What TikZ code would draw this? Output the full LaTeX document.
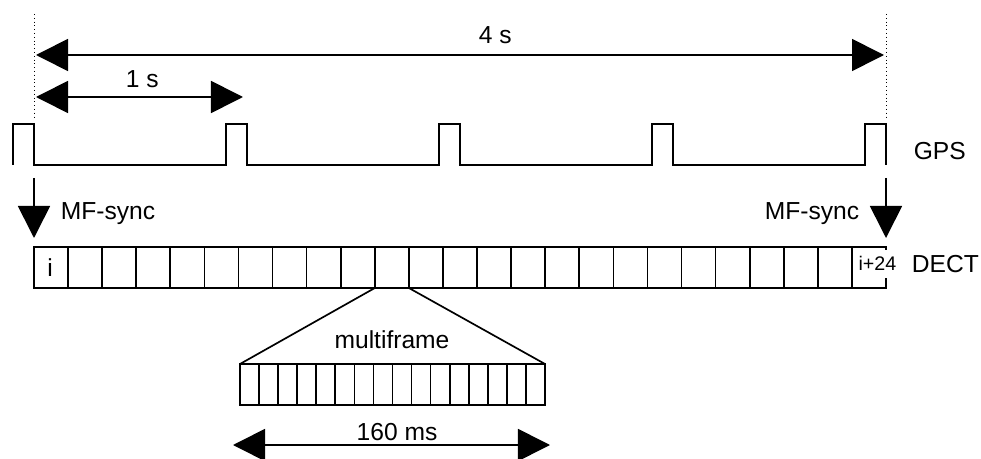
\documentclass[tikz,border=0pt]{standalone}
\usepackage{fontspec}
\setmainfont{Liberation Sans}
\usetikzlibrary{arrows.meta}

\begin{document}
\begin{tikzpicture}[x=0.025cm,y=-0.025cm,line width=1.2pt,
        font=\fontsize{17.5}{21}\selectfont,
        >={Triangle[length=0.8cm,width=0.8cm]},
        lbl/.style={inner sep=0pt}]
            \useasboundingbox (0,0) rectangle (981,459);

            \draw[dotted,line width=0.7pt] (34,14) -- (34,118);
            \draw[dotted,line width=0.7pt] (886,14) -- (886,118);

            \coordinate (fourL) at (36,55);
            \coordinate (fourR) at (884,55);
            \coordinate (oneR) at (243,97);
            \draw[<->] (fourL) -- (fourR);
            \draw[<->] (fourL |- oneR) -- (oneR);
            \node[lbl,anchor=base west] (fours) at (478,44) {4 s};
            \node[lbl,anchor=base west] (ones) at (125,88) {1 s};

            \draw (13,165) -- (13,124) -- (34,124) -- (34,165)
            foreach \p in {226,439,652,865} {-- (\p,165) -- (\p,124) -- ({\p+21},124) -- ({\p+21},165)};
            \node[lbl,anchor=base west] (gps) at (913,160) {GPS};

            \coordinate (syncLa) at (34,178);
            \coordinate (syncLb) at (34,238);
            \coordinate (syncRa) at (886,178);
            \coordinate (syncRb) at (886,238);
            \draw[->] (syncLa) -- (syncLb);
            \draw[->] (syncRa) -- (syncRb);
            \node[lbl,anchor=base west] (syncL) at (60,220) {MF-sync};
            \node[lbl,anchor=base east] (syncR) at (860,220) {MF-sync};

            \draw (34,247) rectangle (886,288);
            \foreach \k in {1,...,24}
            \draw ({34+34.08*\k},247) -- ++(0,41);
            \node[lbl,anchor=base] (first) at (50,277) {i};
            \node[fill=white,inner xsep=1pt,inner ysep=5pt,anchor=base,
                font=\fontsize{14}{17}\selectfont] (last) at (877.5,271) {i+24};
            \node[lbl,anchor=base west] (dect) at (911,273) {DECT};

            \coordinate (cellL) at (374.8,288);
            \coordinate (cellR) at (408.9,288);
            \coordinate (mfL) at (240,364);
            \coordinate (mfR) at (545,364);
            \draw (cellL) -- (mfL);
            \draw (cellR) -- (mfR);
            \draw (mfL) rectangle (545,405);
            \foreach \k in {1,...,15}
            \draw ({240+19.06*\k},364) -- ++(0,41);
            \node[lbl,anchor=base] (mf) at (392,348) {multiframe};

            \coordinate (msL) at (233,445);
            \coordinate (msR) at (550,445);
            \draw[<->] (msL) -- (msR);
            \node[lbl,anchor=base] (ms) at (397,440) {160 ms};
        \end{tikzpicture}
\end{document}
